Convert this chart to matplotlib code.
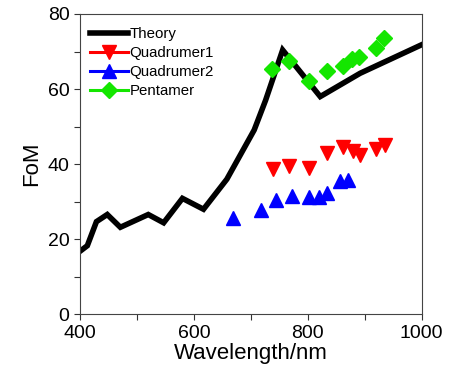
import matplotlib
matplotlib.use("Agg")
import matplotlib.pyplot as plt
from matplotlib.lines import Line2D

plt.rcParams['font.family'] = ['Liberation Sans', 'DejaVu Sans']

theory_wl = [400, 413, 429, 448, 471, 520, 547, 580, 617, 658, 706, 726, 756, 822, 892, 1000]
theory_fom = [16.8, 18.3, 24.7, 26.6, 23.2, 26.6, 24.4, 30.9, 28.0, 36.0, 49.1, 57.0, 70.4, 58.0, 64.2, 71.8]

q1_wl = [739, 768, 802, 833, 862, 879, 891, 920, 935]
q1_fom = [38.8, 39.6, 38.9, 42.9, 44.5, 43.6, 42.4, 44.0, 45.1]

q2_wl = [668, 718, 745, 773, 802, 820, 833, 857, 870]
q2_fom = [25.6, 27.8, 30.4, 31.5, 31.2, 31.2, 32.4, 35.5, 35.8]

pent_wl = [738, 768, 802, 833, 862, 877, 890, 920, 934]
pent_fom = [65.3, 67.5, 62.2, 64.9, 66.2, 68.0, 68.6, 71.0, 73.5]

green = '#14e600'

fig = plt.figure(figsize=(4.49, 3.77), dpi=100)
ax = fig.add_axes([0.178, 0.166, 0.761, 0.797])

ax.plot(theory_wl, theory_fom, color='black', lw=4.0, solid_joinstyle='miter', zorder=2)
ax.plot(q1_wl, q1_fom, ls='none', marker='v', ms=10, color='#ff0000', mec='#ff0000', zorder=3)
ax.plot(q2_wl, q2_fom, ls='none', marker='^', ms=10, color='#0000ff', mec='#0000ff', zorder=3)
ax.plot(pent_wl, pent_fom, ls='none', marker='D', ms=8.5, color=green, mec=green, zorder=3)

ax.set_xlim(400, 1000)
ax.set_ylim(0, 80)
ax.set_xticks([400, 600, 800, 1000])
ax.set_xticks([500, 700, 900], minor=True)
ax.set_yticks([0, 20, 40, 60, 80])
ax.set_yticks([10, 30, 50, 70], minor=True)
ax.tick_params(which='both', direction='out', length=4.5, width=0.8, colors='#333333',
               labelcolor='black', labelsize=14, top=False, right=False)
ax.tick_params(which='major', pad=3)
for s in ax.spines.values():
    s.set_linewidth(0.8)
    s.set_color('#444444')

ax.set_xlabel('Wavelength/nm', fontsize=16, labelpad=1)
ax.set_ylabel('FoM', fontsize=16, labelpad=4)

handles = [
    Line2D([], [], color='black', lw=4.0),
    Line2D([], [], color='#ff0000', lw=2.2, marker='v', ms=10),
    Line2D([], [], color='#0000ff', lw=2.2, marker='^', ms=10),
    Line2D([], [], color=green, lw=2.2, marker='D', ms=8.5),
]
labels = ['Theory', 'Quadrumer1', 'Quadrumer2', 'Pentamer']
ax.legend(handles, labels, loc='upper left', frameon=False, fontsize=10.8,
          handlelength=2.5, handletextpad=0.12, labelspacing=0.32,
          borderaxespad=0.0, bbox_to_anchor=(0.012, 0.975))

fig.savefig('out.png', dpi=100)
